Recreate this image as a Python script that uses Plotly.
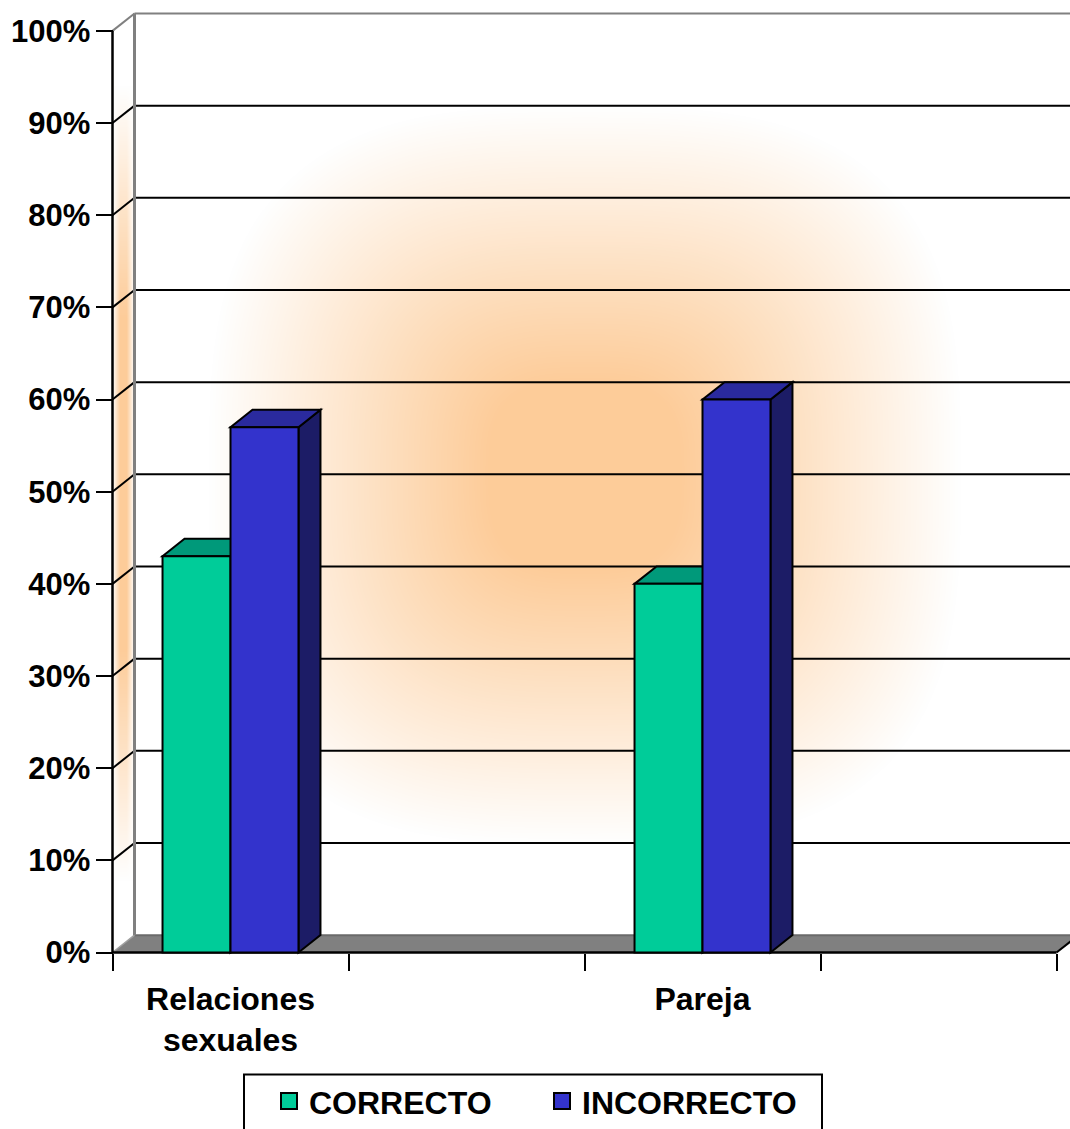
import base64, struct, zlib
import numpy as np
import plotly.graph_objects as go

# ---------------- data ----------------
categories = ["Relaciones<br>sexuales", " ", "Pareja", "  "]
series_names = ["CORRECTO", "INCORRECTO"]
correcto = [0.43, None, 0.40, None]
incorrecto = [0.57, None, 0.60, None]
y_ticks = [0, 0.1, 0.2, 0.3, 0.4, 0.5, 0.6, 0.7, 0.8, 0.9, 1.0]

front_colors = ["#00CC99", "#3333CC"]
top_colors = ["#00997A", "#2A2A9E"]
side_colors = ["#008866", "#1C1C66"]

# ---------------- page geometry ----------------
W, H = 1070, 1129
ML, MR, MT, MB = 100, 0, 8, 165
PW, PH = W - ML - MR, H - MT - MB
CAT_PX = 236.0            # pixels per category
Y_PX = 926.5              # pixels per 100 %
AX_X = 112.5              # front y axis (page px)
AX_Y = 957.5              # front x axis (page px)
x0r = -0.5 - (AX_X - ML) / CAT_PX
x1r = x0r + PW / CAT_PX
y0r = -(MT + PH - AX_Y) / Y_PX
y1r = y0r + PH / Y_PX
DXP, DYP = 22.0, 17.5     # 3-D depth offset in px
DXC = DXP / CAT_PX
DYV = DYP / Y_PX
BARGAP = 0.424

# ---------------- background gradient image ----------------
def make_png(rgb):
    h, w, _ = rgb.shape
    a = rgb.astype(np.int16)
    sub = a.copy()
    sub[:, 1:, :] = a[:, 1:, :] - a[:, :-1, :]
    sub = (sub % 256).astype(np.uint8)
    raw = np.concatenate([np.ones((h, 1), np.uint8), sub.reshape(h, w * 3)], axis=1).tobytes()

    def chunk(t, d):
        return struct.pack('>I', len(d)) + t + d + struct.pack('>I', zlib.crc32(t + d) & 0xffffffff)

    png = (b'\x89PNG\r\n\x1a\n' + chunk(b'IHDR', struct.pack('>IIBBBBB', w, h, 8, 2, 0, 0, 0))
           + chunk(b'IDAT', zlib.compress(raw, 9)) + chunk(b'IEND', b''))
    return 'data:image/png;base64,' + base64.b64encode(png).decode()

px = ML + np.arange(PW) + 0.5
py = MT + np.arange(PH) + 0.5
PX, PY = np.meshgrid(px, py)
img = np.full((PH, PW, 3), 255.0)
orange = np.array([253.0, 204.0, 153.0])

back_left = AX_X + DXP
back_top = AX_Y - Y_PX - DYP
back_bot = AX_Y - DYP
cx, cy, hw, hh = 585.0, 478.0, 470.0, 463.0
u = np.abs(PX - cx) / hw
v = np.abs(PY - cy) / hh
t = (u ** 3 + v ** 3) ** (1 / 3)
I = np.clip((0.8 - t) / 0.6, 0, 1)
mask_back = (PX >= back_left) & (PY >= back_top) & (PY <= back_bot)
for c in range(3):
    ch = img[:, :, c]
    ch[mask_back] = 255 - (255 - orange[c]) * I[mask_back]

slope = DYP / DXP
top_d = (AX_Y - Y_PX) - (PX - AX_X) * slope
bot_d = AX_Y - (PX - AX_X) * slope
mask_left = (PX >= AX_X) & (PX < back_left) & (PY >= top_d) & (PY <= bot_d)
ul = np.abs(PX - (AX_X + DXP / 2)) / (DXP / 2)
vl = np.abs(PY - 486) / 470
Il = np.clip((1 - ul) / 0.7, 0, 1) * np.clip((0.85 - vl) / 0.5, 0, 1)
for c in range(3):
    ch = img[:, :, c]
    ch[mask_left] = 255 - (255 - orange[c]) * Il[mask_left]

bg_uri = make_png(np.clip(img, 0, 255).astype(np.uint8))

# ---------------- figure ----------------
fig = go.Figure()
for name, vals, col in zip(series_names, [correcto, incorrecto], front_colors):
    fig.add_trace(go.Bar(
        x=categories, y=vals, name=name, showlegend=False,
        marker=dict(color=col, line=dict(color="black", width=2)),
        hoverinfo="skip",
    ))
    fig.add_trace(go.Scatter(
        x=[None], y=[None], mode="markers", name=name,
        marker=dict(symbol="square", size=16, color=col, line=dict(color="black", width=2)),
    ))

shapes = []


def path(points):
    return "M " + " L ".join(f"{x:.5f},{y:.5f}" for x, y in points) + " Z"


def line(xa, ya, xb, yb, color, width):
    shapes.append(dict(type="line", xref="x", yref="y", x0=xa, y0=ya, x1=xb, y1=yb,
                       line=dict(color=color, width=width), layer="below"))


# floor
shapes.append(dict(type="path", xref="x", yref="y", layer="below",
                   path=path([(-0.5, 0), (3.5, 0), (3.5 + DXC, DYV), (-0.5 + DXC, DYV)]),
                   fillcolor="#808080", line=dict(width=0)))
line(-0.5 + DXC, DYV, 4.5, DYV, "#6A6A6A", 2)
line(-0.5, 0, -0.5 + DXC, DYV, "#A0A0A0", 1.5)

# gridlines on back wall + left wall
for yv in y_ticks[1:]:
    col = "#808080" if yv == 1.0 else "black"
    line(-0.5, yv, -0.5 + DXC, yv + DYV, col, 2)
    line(-0.5 + DXC, yv + DYV, 4.5, yv + DYV, col, 2)
line(-0.5 + DXC, DYV, -0.5 + DXC, 1 + DYV, "#808080", 3)

# 3-D faces of bars
w = (1 - BARGAP) / 2
for i in range(len(categories)):
    for s, vals in enumerate([correcto, incorrecto]):
        val = vals[i]
        if val is None:
            continue
        left = i - (1 - BARGAP) / 2 + s * w
        right = left + w
        shapes.append(dict(type="path", xref="x", yref="y", layer="below",
                           path=path([(right, 0), (right + DXC, DYV), (right + DXC, val + DYV), (right, val)]),
                           fillcolor=side_colors[s], line=dict(color="black", width=2)))
        shapes.append(dict(type="path", xref="x", yref="y", layer="below",
                           path=path([(left, val), (right, val), (right + DXC, val + DYV), (left + DXC, val + DYV)]),
                           fillcolor=top_colors[s], line=dict(color="black", width=2)))

# front axes lines
line(-0.5, 0, -0.5, 1, "black", 2.5)
line(-0.5, 0, 3.5, 0, "black", 2.5)
line(3.5, 0, 3.5 + DXC, DYV, "black", 2)

# legend box
def pxx(p):
    return (p - ML) / PW


def pyy(p):
    return (MT + PH - p) / PH


shapes.append(dict(type="rect", xref="paper", yref="paper",
                   x0=pxx(244), x1=pxx(822), y0=pyy(1080), y1=pyy(1140),
                   line=dict(color="black", width=2), fillcolor="white", layer="above"))

font_family = "Liberation Sans, Arial, sans-serif"
fig.update_layout(
    width=W, height=H,
    margin=dict(l=ML, r=MR, t=MT, b=MB, pad=0),
    paper_bgcolor="white", plot_bgcolor="rgba(0,0,0,0)",
    barmode="group", bargap=BARGAP, bargroupgap=0,
    shapes=shapes,
    images=[dict(source=bg_uri, xref="paper", yref="paper", x=0, y=1, sizex=1, sizey=1,
                 sizing="stretch", xanchor="left", yanchor="top", layer="below")],
    font=dict(family=font_family, color="black"),
    xaxis=dict(type="category", categoryorder="array", categoryarray=categories,
               range=[x0r, x1r], tickson="boundaries", ticks="outside", ticklen=17,
               tickwidth=2, tickcolor="black", showgrid=False, zeroline=False, showline=False,
               anchor="free", position=(MT + PH - AX_Y) / PH,
               tickfont=dict(size=32, family=font_family, weight="bold", color="black"),
               ticklabelstandoff=24, fixedrange=True),
    yaxis=dict(range=[y0r, y1r], tickmode="array", tickvals=y_ticks, tickformat=".0%",
               ticks="outside", ticklen=17, tickwidth=2, tickcolor="black",
               showgrid=False, zeroline=False, showline=False,
               anchor="free", position=(AX_X - ML) / PW,
               tickfont=dict(size=31, family=font_family, weight="bold", color="black"),
               ticklabelstandoff=-1, fixedrange=True),
    legend=dict(orientation="h", x=pxx(269), xanchor="left", y=pyy(1107), yanchor="middle",
                bgcolor="rgba(0,0,0,0)", borderwidth=0, entrywidth=228, entrywidthmode="pixels",
                font=dict(size=32, family=font_family, weight="bold", color="black")),
)

fig.write_html("out.html")
